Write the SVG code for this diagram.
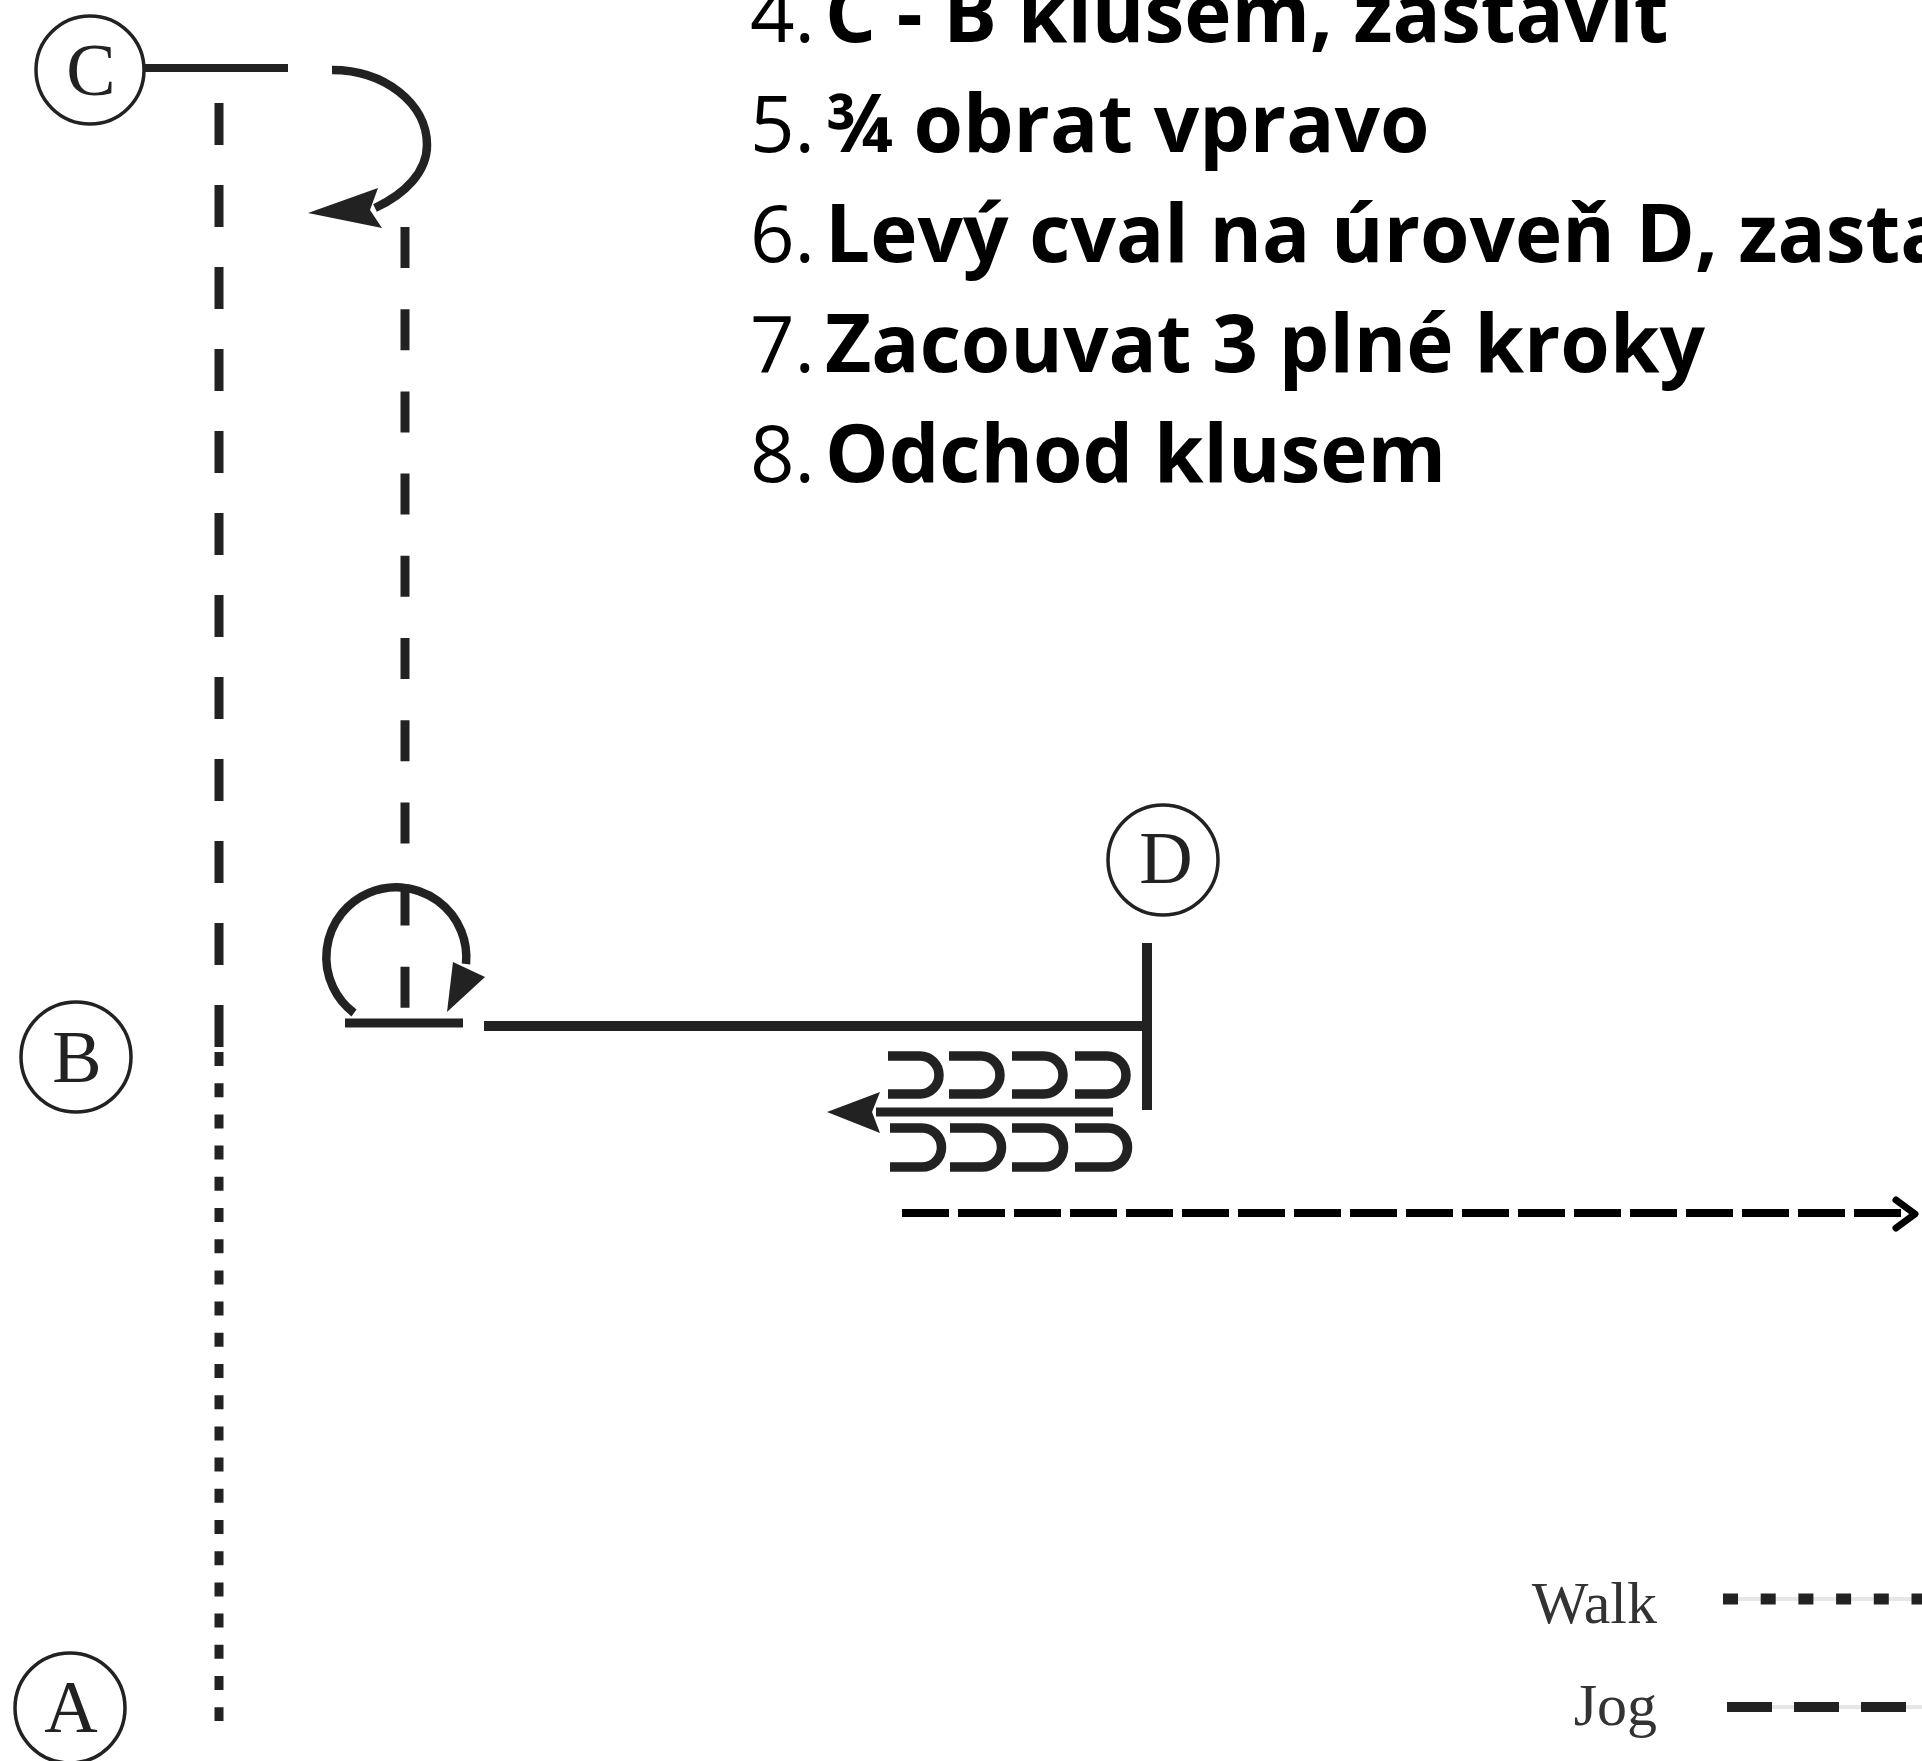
<svg xmlns="http://www.w3.org/2000/svg" width="1922" height="1761" viewBox="0 0 1922 1761">
<style>
.ring{fill:#fff;stroke:#222;stroke-width:3.5}
.let{font-family:"Liberation Serif","Times New Roman",serif;font-size:74px;fill:#222;text-anchor:middle}
.num{font-family:"Open Sans","Noto Sans",sans-serif;font-size:78px;fill:#000}
.txt{font-family:"Open Sans","Noto Sans",sans-serif;font-size:80px;font-weight:bold;fill:#000}
.ln{fill:none;stroke:#222;stroke-linecap:butt}
.shoe{fill:none;stroke:#222;stroke-width:9.5}
.leg{font-family:"Liberation Serif","Times New Roman",serif;font-size:60px;fill:#333;text-anchor:end}
</style>
<rect width="1922" height="1761" fill="#fff"/>

<g id="instructions">
<text class="num" x="750" y="42">4.</text><text class="txt" x="825" y="42">C - B klusem, zastavit</text>
<text class="num" x="750" y="152">5.</text><text class="txt" x="825" y="152">¾ obrat vpravo</text>
<text class="num" x="750" y="262">6.</text><text class="txt" x="825" y="262">Levý cval na úroveň D, zastavit</text>
<text class="num" x="750" y="372">7.</text><text class="txt" x="825" y="372">Zacouvat 3 plné kroky</text>
<text class="num" x="750" y="482">8.</text><text class="txt" x="825" y="482">Odchod klusem</text>
</g>

<g id="connectors">
<line class="ln" x1="145" y1="68" x2="288" y2="68" stroke-width="8"/>
<path class="ln" d="M332,70 C384,70 427,103 427,145 C427,172 405,194 375,208" stroke-width="8.5"/>
<polygon points="308,213 378,188 370,210 382,228" fill="#222"/>
<line class="ln" x1="219" y1="103" x2="219" y2="1047" stroke-width="9" stroke-dasharray="42 40"/>
<line class="ln" x1="219" y1="1052" x2="219" y2="1721" stroke-width="9" stroke-dasharray="14 17.2"/>
<line class="ln" x1="405" y1="227" x2="405" y2="1008" stroke-width="9" stroke-dasharray="41 41.2"/>
<path class="ln" d="M354,1013 A70 70 0 1 1 466,964" stroke-width="8.5"/>
<polygon points="453,962 485,977 447,1012" fill="#222"/>
<line class="ln" x1="345" y1="1023" x2="463" y2="1023" stroke-width="9"/>
<line class="ln" x1="484" y1="1026" x2="1147" y2="1026" stroke-width="10"/>
<line class="ln" x1="1147" y1="943" x2="1147" y2="1110" stroke-width="10"/>
<g id="backup">
<path class="shoe" d="M888,1056 H920 A19 19 0 0 1 920,1094 H888"/>
<path class="shoe" d="M949,1056 H981 A19 19 0 0 1 981,1094 H949"/>
<path class="shoe" d="M1012,1056 H1044 A19 19 0 0 1 1044,1094 H1012"/>
<path class="shoe" d="M1075,1056 H1107 A19 19 0 0 1 1107,1094 H1075"/>
<line class="ln" x1="876" y1="1112" x2="1113" y2="1112" stroke-width="9"/>
<polygon points="827,1112 880,1092 872,1112 880,1133" fill="#222"/>
<path class="shoe" d="M890,1128 H922 A19.5 19.5 0 0 1 922,1167 H890"/>
<path class="shoe" d="M950,1128 H982 A19.5 19.5 0 0 1 982,1167 H950"/>
<path class="shoe" d="M1012,1128 H1044 A19.5 19.5 0 0 1 1044,1167 H1012"/>
<path class="shoe" d="M1075,1128 H1108 A19.5 19.5 0 0 1 1108,1167 H1075"/>
</g>
<line x1="902" y1="1213" x2="1910" y2="1213" stroke="#000" stroke-width="8" stroke-dasharray="47 9"/>
<polyline points="1896,1200 1915,1214 1896,1228" fill="none" stroke="#000" stroke-width="7" stroke-linecap="round" stroke-linejoin="round"/>
</g>

<g id="node-C"><circle class="ring" cx="90" cy="70" r="54"/><text class="let" x="91" y="95">C</text></g>
<g id="node-B"><circle class="ring" cx="76" cy="1057" r="55"/><text class="let" x="77" y="1082">B</text></g>
<g id="node-A"><circle class="ring" cx="70" cy="1708" r="55"/><text class="let" x="71" y="1732">A</text></g>
<g id="node-D"><circle class="ring" cx="1163" cy="860" r="55"/><text class="let" x="1166" y="883">D</text></g>

<g id="legend">
<text class="leg" x="1657" y="1623">Walk</text>
<line x1="1723" y1="1599" x2="1922" y2="1599" stroke="#e6e6e6" stroke-width="4"/>
<line x1="1723" y1="1599" x2="1922" y2="1599" stroke="#222" stroke-width="11" stroke-dasharray="15 22.7"/>
<text class="leg" x="1657" y="1725">Jog</text>
<line x1="1727" y1="1707" x2="1922" y2="1707" stroke="#e6e6e6" stroke-width="4"/>
<line x1="1727" y1="1707" x2="1922" y2="1707" stroke="#222" stroke-width="10" stroke-dasharray="45 22"/>
</g>
</svg>
